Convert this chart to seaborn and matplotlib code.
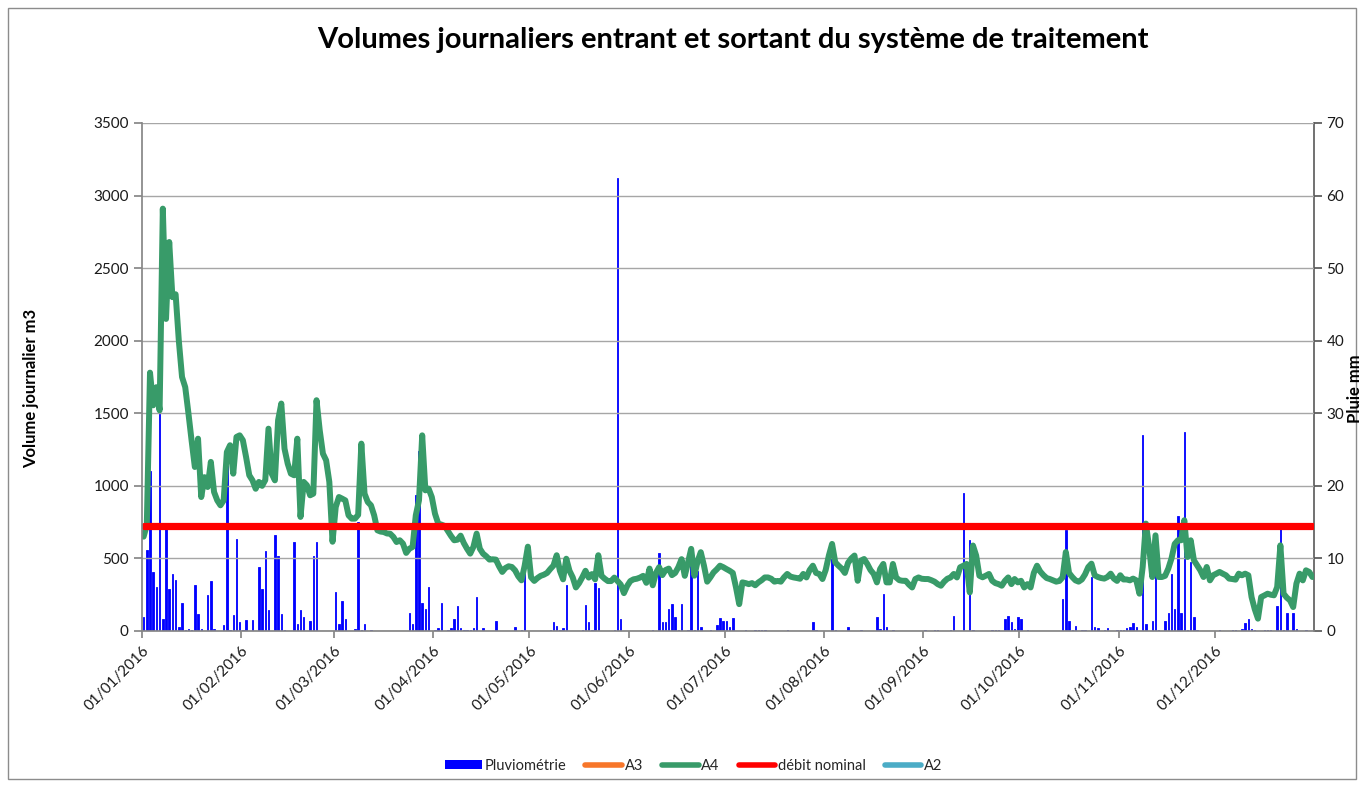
import numpy as np
import pandas as pd
import matplotlib
matplotlib.use("Agg")
import matplotlib.pyplot as plt
import seaborn as sns
from matplotlib.patches import Patch, Rectangle
from matplotlib.lines import Line2D

# ---------------- data (daily volumes A4, m3) ----------------
a4_jan = [650, 730, 1780, 1555, 1680, 1520, 2910, 2150, 2680, 2300, 2320, 2000, 1750, 1680, 1500, 1310,
          1130, 1325, 923, 1060, 992, 1165, 958, 900, 866, 900, 1233, 1280, 1084, 1337, 1348]
a4_feb = [1314, 1199, 1073, 1038, 980, 1027, 1000, 1040, 1394, 1084, 1038, 1452, 1567, 1256, 1153,
          1084, 1073, 1325, 786, 1027, 1004, 935, 946, 1590, 1383, 1222, 1176, 1027, 615]
a4_mar = [854, 923, 912, 900, 797, 774, 774, 800, 1291, 946, 889, 866, 797, 694, 685, 682, 672, 670,
          648, 613, 625, 602, 538, 567, 579, 797, 900, 1348, 969, 981, 923]
a4_apr = [808, 740, 733, 724, 689, 655, 625, 629, 657, 606, 567, 533, 580, 671, 567, 533, 515, 492,
          494, 492, 446, 407, 434, 446, 441, 418, 377, 349, 450, 581]
a4_may = [370, 345, 365, 380, 388, 400, 427, 451, 522, 415, 356, 498, 415, 370, 300, 330, 370, 415,
          368, 392, 356, 522, 380, 360, 344, 344, 368, 344, 320, 261, 310]
a4_jun = [344, 356, 360, 368, 380, 332, 430, 315, 400, 440, 385, 420, 430, 385, 400, 440, 495, 380,
          470, 566, 381, 480, 543, 450, 340, 370, 404, 425, 450, 440]
a4_jul = [427, 415, 400, 300, 185, 335, 330, 323, 330, 315, 335, 350, 369, 369, 360, 340, 345, 340,
          370, 393, 375, 369, 365, 360, 393, 369, 420, 450, 400, 393, 358]
a4_aug = [420, 520, 600, 473, 450, 430, 400, 470, 500, 520, 346, 485, 496, 462, 420, 393, 335, 427,
          462, 335, 335, 462, 369, 350, 346, 346, 320, 300, 358, 369, 360]
a4_sep = [358, 358, 350, 340, 323, 312, 340, 360, 369, 393, 369, 439, 450, 462, 266, 589, 520, 381,
          370, 381, 393, 346, 330, 323, 312, 346, 369, 323, 358, 335]
a4_oct = [346, 300, 323, 300, 400, 450, 410, 385, 365, 358, 349, 340, 345, 370, 544, 400, 372, 349,
          340, 355, 390, 440, 464, 384, 372, 365, 361, 372, 395, 361, 345]
a4_nov = [384, 355, 355, 349, 361, 349, 257, 441, 740, 579, 372, 659, 372, 372, 380, 430, 500, 600,
          625, 625, 763, 510, 625, 487, 452, 418, 372, 441, 349, 384]
a4_dec = [395, 407, 395, 384, 361, 358, 354, 395, 384, 395, 384, 234, 150, 85, 234, 245, 257, 250,
          246, 303, 590, 257, 230, 211, 165, 326, 395, 349, 418, 407, 372]

nominal_flow = 720  # débit nominal, m3/j

# rainfall (day index of the year, mm)
rain_day = [0, 1, 2, 3, 4, 5, 6, 7, 8, 9, 10, 11, 12, 13, 14, 15, 16, 17, 18, 20, 21, 22, 25, 26, 27,
            28, 29, 30, 31, 32, 34, 36, 37, 38, 39, 41, 42, 43, 44, 47, 48, 49, 50, 52, 53, 54, 60, 61,
            62, 63, 66, 67, 68, 69, 71, 83, 84, 85, 86, 87, 88, 89, 91, 92, 93, 95, 96, 97, 98, 99,
            100, 101, 102, 103, 104, 106, 110, 116, 118, 119, 127, 128, 129, 130, 131, 132, 137, 138,
            139, 140, 141, 142, 147, 148, 149, 159, 161, 162, 163, 164, 165, 166, 167, 168, 170, 171,
            172, 173, 174, 177, 179, 180, 181, 182, 183, 184, 188, 191, 192, 193, 194, 201, 209, 210,
            215, 216, 220, 224, 229, 230, 231, 232, 234, 244, 247, 248, 252, 253, 256, 258, 259, 265,
            266, 267, 269, 270, 271, 272, 273, 274, 276, 287, 288, 289, 290, 291, 293, 294, 296, 297,
            298, 300, 301, 304, 305, 306, 307, 308, 309, 310, 312, 313, 315, 316, 317, 319, 320, 321,
            322, 323, 324, 325, 326, 327, 328, 329, 336, 340, 341, 343, 344, 345, 346, 347, 350, 351,
            352, 354, 355, 356, 357, 359, 360, 363]
rain_mm = [1.9, 11.1, 22.0, 8.1, 6.1, 30.4, 1.7, 14.1, 5.8, 7.9, 7.0, 0.6, 3.8, 0.2, 0.3, 0.2, 6.3, 2.4,
           0.3, 4.9, 6.9, 0.3, 0.8, 22.8, 0.2, 2.2, 12.7, 1.2, 0.1, 1.5, 1.5, 8.8, 5.8, 11.0, 2.9, 13.2,
           10.4, 2.3, 0.2, 12.3, 0.9, 2.9, 1.9, 1.4, 10.3, 12.3, 5.4, 0.9, 4.1, 1.7, 0.3, 15.0, 0.2,
           0.9, 0.2, 2.5, 0.9, 18.8, 24.8, 3.9, 3.1, 6.0, 0.2, 0.4, 3.9, 0.2, 0.4, 1.7, 3.5, 0.4, 0.2,
           0.2, 0.2, 0.4, 4.7, 0.4, 1.4, 0.6, 0.1, 8.0, 0.1, 1.3, 0.7, 0.1, 0.4, 6.3, 0.1, 3.6, 1.2,
           0.2, 6.6, 5.9, 0.1, 62.4, 1.7, 0.1, 10.7, 1.3, 1.3, 3.0, 3.7, 1.9, 0.1, 3.7, 0.2, 9.0, 0.1,
           8.3, 0.6, 0.2, 0.8, 1.8, 1.4, 1.4, 0.5, 1.8, 0.1, 0.2, 0.1, 0.1, 0.2, 0.1, 1.3, 0.1, 10.0,
           0.1, 0.5, 0.1, 1.9, 0.3, 5.1, 0.6, 0.1, 0.1, 0.1, 0.2, 0.1, 2.1, 19.0, 12.5, 0.2, 0.1, 0.1,
           0.2, 1.6, 2.1, 1.3, 0.3, 1.9, 1.6, 0.1, 4.4, 13.9, 1.4, 0.2, 0.7, 0.2, 0.2, 7.4, 0.6, 0.4,
           0.2, 0.4, 0.2, 0.2, 0.2, 0.4, 0.6, 1.1, 0.6, 27.0, 0.9, 1.4, 7.9, 0.2, 1.4, 2.5, 7.9, 3.1,
           15.9, 2.5, 27.4, 0.2, 9.5, 1.9, 0.2, 0.2, 0.2, 0.2, 0.3, 1.1, 1.7, 0.3, 0.2, 0.2, 0.2, 0.2,
           3.5, 14.8, 0.2, 2.5, 2.5, 0.3, 0.2]

month_start = [0, 31, 60, 91, 121, 152, 182, 213, 244, 274, 305, 335]
month_labels = ["01/01/2016", "01/02/2016", "01/03/2016", "01/04/2016", "01/05/2016", "01/06/2016",
                "01/07/2016", "01/08/2016", "01/09/2016", "01/10/2016", "01/11/2016", "01/12/2016"]

series_names = ["Pluviométrie", "A3", "A4", "débit nominal", "A2"]
series_colors = ["#0000FF", "#F7762A", "#389B69", "#FF0000", "#4BACC6"]

# ---------------- build frames ----------------
a4 = (a4_jan + a4_feb + a4_mar + a4_apr + a4_may + a4_jun + a4_jul + a4_aug + a4_sep + a4_oct
      + a4_nov + a4_dec)
df = pd.DataFrame({"day": np.arange(len(a4)) + 0.5, "A4": a4})
df["nominal"] = nominal_flow
rain = pd.DataFrame({"day": np.array(rain_day) + 0.5, "mm": rain_mm})

# ---------------- figure ----------------
sns.set_theme(style="white")
plt.rcParams['font.family'] = ['Lato', 'DejaVu Sans']

W, H = 1364, 787
fig = plt.figure(figsize=(W / 100, H / 100), dpi=100)
L, R, T, B = 142, 1314, 123, 631
ax = fig.add_axes([L / W, 1 - B / H, (R - L) / W, (B - T) / H])
ax2 = ax.twinx()
ax2.set_zorder(1)
ax.set_zorder(2)
ax.patch.set_visible(False)

# rainfall bars on the secondary axis
ax2.bar(rain["day"], rain["mm"], width=0.45, color=series_colors[0],
        edgecolor=series_colors[0], linewidth=0.6)

# lines
sns.lineplot(data=df, x="day", y="A4", ax=ax, color=series_colors[2], linewidth=4.3,
             legend=False, solid_joinstyle="round", solid_capstyle="round")
sns.lineplot(data=df, x="day", y="nominal", ax=ax, color=series_colors[3], linewidth=5.2,
             legend=False, solid_capstyle="round")

# axes
ax.set_xlim(0, 366)
ax.set_ylim(0, 3500)
ax.set_yticks(np.arange(0, 3501, 500))
ax2.set_ylim(0, 70)
ax2.set_yticks(np.arange(0, 71, 10))
ax.set_xticks(month_start)
ax.set_xticklabels(month_labels, rotation=45, ha="right", va="top", rotation_mode="anchor")
ax.set_xlabel("")
ax.set_ylabel("")
ax2.set_ylabel("")

ax.yaxis.grid(True, color="#A6A6A6", linewidth=1.0)
ax.xaxis.grid(False)
ax2.grid(False)

for s in ["top", "right"]:
    ax.spines[s].set_visible(False)
ax.spines["left"].set_color("#868686")
ax.spines["bottom"].set_color("#868686")
for s in ["top", "left", "bottom"]:
    ax2.spines[s].set_visible(False)
ax2.spines["right"].set_color("#595959")
ax2.spines["right"].set_linewidth(1.2)

ax.tick_params(axis="y", direction="out", length=6, color="#868686", labelsize=11, pad=3.5,
               left=True, labelcolor="#1a1a1a")
ax.tick_params(axis="x", direction="out", length=5, color="#868686", labelsize=11, pad=4,
               bottom=True, labelcolor="#1a1a1a")
ax2.tick_params(axis="y", direction="out", length=6, color="#595959", labelsize=11, pad=3,
                right=True, labelcolor="#1a1a1a")

# titles / labels
fig.text(733 / W, 1 - 40 / H, "Volumes journaliers entrant et sortant du système de traitement",
         ha="center", va="center", fontsize=21, fontweight="bold", color="#000000")
fig.text(31 / W, 1 - 388 / H, "Volume journalier m3", rotation=90, ha="center", va="center",
         fontsize=12, fontweight="bold", color="#000000")
fig.text(1355 / W, 1 - 389 / H, "Pluie mm", rotation=90, ha="center", va="center",
         fontsize=12, fontweight="bold", color="#000000")

# legend
handles = [Patch(facecolor=series_colors[0], edgecolor="none")]
for c in series_colors[1:]:
    handles.append(Line2D([0], [0], color=c, linewidth=4))
fig.legend(handles, series_names, loc="center", bbox_to_anchor=(694 / W, 1 - 766 / H), ncol=5,
           frameon=False, fontsize=10.5, handlelength=2.5, handleheight=0.55, handletextpad=0.2,
           columnspacing=1.3)

# chart area border
fig.patches.append(Rectangle((8 / W, 8 / H), (W - 16) / W, (H - 16) / H, transform=fig.transFigure,
                             fill=False, edgecolor="#8C8C8C", linewidth=1.0))

fig.savefig("out.png", dpi=100)
